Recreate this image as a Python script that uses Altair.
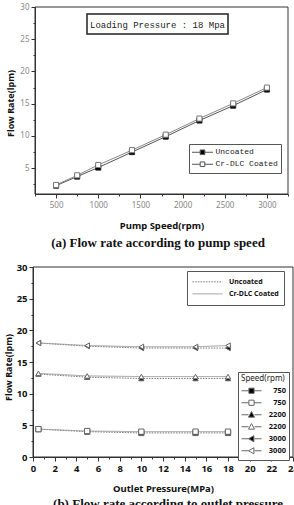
import altair as alt
import pandas as pd

# ---------------- data: panel (a) ----------------
pump_speed = [500, 750, 1000, 1400, 1800, 2200, 2600, 3000]
flow_uncoated_a = [2.3, 3.7, 5.1, 7.5, 9.9, 12.4, 14.7, 17.2]
flow_coated_a = [2.4, 3.9, 5.5, 7.8, 10.2, 12.7, 15.05, 17.5]
coatings = ["Uncoated", "Cr-DLC Coated"]

# ---------------- data: panel (b) ----------------
outlet_pressure = [0.5, 5, 10, 15, 18]
flow_750_uncoated = [4.4, 4.0, 3.8, 3.8, 3.8]
flow_750_coated = [4.4, 4.1, 4.0, 4.0, 4.0]
flow_2200_uncoated = [13.1, 12.6, 12.4, 12.4, 12.4]
flow_2200_coated = [13.2, 12.8, 12.7, 12.7, 12.7]
flow_3000_uncoated = [18.0, 17.5, 17.2, 17.2, 17.2]
flow_3000_coated = [18.0, 17.6, 17.4, 17.4, 17.6]
speeds = ["750", "2200", "3000"]

annotation_text = "Loading Pressure : 18 Mpa"
caption_a = "(a)  Flow rate according to pump speed"
caption_b = "(b)  Flow rate according to outlet pressure"

# ---------------- tables ----------------
rows_a = []
for coat, vals in zip(coatings, [flow_uncoated_a, flow_coated_a]):
    for s, v in zip(pump_speed, vals):
        rows_a.append({"speed": s, "flow": v, "coat": coat})
df_a = pd.DataFrame(rows_a)

series_b = {
    ("750", "Uncoated"): flow_750_uncoated,
    ("750", "Cr-DLC Coated"): flow_750_coated,
    ("2200", "Uncoated"): flow_2200_uncoated,
    ("2200", "Cr-DLC Coated"): flow_2200_coated,
    ("3000", "Uncoated"): flow_3000_uncoated,
    ("3000", "Cr-DLC Coated"): flow_3000_coated,
}
keys_b = []
rows_b = []
for (sp, coat), vals in series_b.items():
    key = f"{sp} {'U' if coat == 'Uncoated' else 'C'}"
    keys_b.append(key)
    for p, v in zip(outlet_pressure, vals):
        rows_b.append({"pressure": p, "flow": v, "coat": coat, "key": key})
df_b = pd.DataFrame(rows_b)

W, H = 294, 505
# plot frames (pixel geometry)
A_L, A_R, A_T, A_B = 35, 288, 7, 194
B_L, B_R, B_T, B_B = 33, 293, 267, 457

SANS = "Noto Sans"

# ---------------- panel (a) ----------------
xa = alt.X(
    "speed:Q",
    scale=alt.Scale(domain=[250, 3250], range=[A_L, A_R], nice=False, zero=False),
    axis=alt.Axis(
        orient="bottom", offset=-(H - A_B), values=list(range(250, 3251, 250)), format="d",
        labelExpr="(datum.value % 500 === 0) ? datum.label : ''",
        tickSize={"condition": {"test": "datum.value % 500 === 0", "value": 4}, "value": 2},
        grid=False, domainColor="#333", tickColor="#333", labelColor="#888",
        labelFont=SANS, labelFontSize=8, labelPadding=3, labelFlush=False, labelOverlap=False,
        title="Pump Speed(rpm)", titleFont=SANS, titleFontSize=9.5, titleFontWeight="bold",
        titleColor="#111", titleX=(A_L + A_R) / 2, titleY=31, titleBaseline="middle",
    ),
)
ya = alt.Y(
    "flow:Q",
    scale=alt.Scale(domain=[1, 30], range=[A_B, A_T], nice=False, zero=False),
    axis=alt.Axis(
        orient="left", offset=-A_L, values=[2.5 * i for i in range(1, 13)],
        labelExpr="(datum.value % 5 === 0) ? datum.label : ''",
        tickSize={"condition": {"test": "datum.value % 5 === 0", "value": 4}, "value": 2},
        grid=False, domainColor="#333", tickColor="#333", labelColor="#888",
        labelFont=SANS, labelFontSize=8, labelPadding=2, labelFlush=False, labelOverlap=False,
        title="Flow Rate(lpm)", titleFont=SANS, titleFontSize=9, titleFontWeight="bold",
        titleColor="#111", titleX=10 - A_L, titleY=103, titleAngle=-90,
        titleBaseline="middle", titleAlign="center",
    ),
)

lines_a = alt.Chart(df_a).mark_line(strokeWidth=1).encode(
    x=xa, y=ya,
    color=alt.Color("coat:N", scale=alt.Scale(domain=coatings, range=["#555", "#888"]), legend=None),
)
points_a = alt.Chart(df_a).mark_point(shape="square", size=26, strokeWidth=1, opacity=1, filled=True).encode(
    x=xa, y=ya,
    fill=alt.Fill("coat:N", scale=alt.Scale(domain=coatings, range=["#000", "#fff"]), legend=None),
    stroke=alt.Stroke("coat:N", scale=alt.Scale(domain=coatings, range=["#222", "#777"]), legend=None),
)
SYM_SQ = "M-1,0H-0.22M0.22,0H1M-0.22,-0.22H0.22V0.22H-0.22Z"
legend_a = alt.Legend(
    title=None, orient="none", legendX=189, legendY=144,
    symbolSize=441, symbolStrokeWidth=1,
    labelFont="Liberation Mono", labelFontSize=8, labelColor="#222", labelOffset=2,
    clipHeight=11.5, rowPadding=0, padding=2.5,
    strokeColor="#555", fillColor="white",
)
legend_pts_a = alt.Chart(df_a).transform_filter("datum.flow < 0").mark_point(
    size=441, strokeWidth=1, opacity=1, filled=True, stroke="#555"
).encode(
    shape=alt.Shape("coat:N", scale=alt.Scale(domain=coatings, range=[SYM_SQ, SYM_SQ]), legend=legend_a),
    fill=alt.Fill("coat:N", scale=alt.Scale(domain=coatings, range=["#000", "#fff"]), legend=legend_a),
)
panel_a = alt.layer(lines_a, points_a, legend_pts_a).resolve_scale(shape="independent", fill="independent")

# ---------------- panel (b) ----------------
xb = alt.X(
    "pressure:Q",
    scale=alt.Scale(domain=[0, 24], range=[B_L, B_R], nice=False, zero=False),
    axis=alt.Axis(
        orient="bottom", offset=-(H - B_B), values=list(range(0, 25)), format="d",
        labelExpr="(datum.value % 2 === 0) ? datum.label : ''",
        tickSize={"condition": {"test": "datum.value % 2 === 0", "value": 4}, "value": 2},
        grid=False, domainColor="#333", tickColor="#333", labelColor="#111",
        labelFont=SANS, labelFontSize=9.5, labelFontWeight="bold", labelPadding=2,
        labelFlush=False, labelOverlap=False,
        title="Outlet Pressure(MPa)", titleFont=SANS, titleFontSize=9.5, titleFontWeight="bold",
        titleColor="#111", titleX=(B_L + B_R) / 2, titleY=31, titleBaseline="middle",
    ),
)
yb = alt.Y(
    "flow:Q",
    scale=alt.Scale(domain=[0, 30], range=[B_B, B_T], nice=False, zero=False),
    axis=alt.Axis(
        orient="left", offset=-B_L, values=[2.5 * i for i in range(0, 13)],
        labelExpr="(datum.value % 5 === 0) ? datum.label : ''",
        tickSize={"condition": {"test": "datum.value % 5 === 0", "value": 4}, "value": 2},
        grid=False, domainColor="#333", tickColor="#333", labelColor="#111",
        labelFont=SANS, labelFontSize=9.5, labelFontWeight="bold", labelPadding=2,
        labelFlush=False, labelOverlap=False,
        title="Flow Rate(lpm)", titleFont=SANS, titleFontSize=9, titleFontWeight="bold",
        titleColor="#111", titleX=8 - B_L, titleY=367, titleAngle=-90,
        titleBaseline="middle", titleAlign="center",
    ),
)

legend_lines_b = alt.Legend(
    title=None, orient="none", legendX=187, legendY=271,
    symbolSize=900, symbolStrokeWidth=1, labelFont=SANS, labelFontSize=7,
    labelFontWeight="bold", labelColor="#111", labelOffset=6,
    clipHeight=11.7, rowPadding=0, padding=5, strokeColor="#555", fillColor="white",
)
lines_b = alt.Chart(df_b).mark_line(strokeWidth=1).encode(
    x=xb, y=yb, detail="key:N",
    stroke=alt.Stroke("coat:N", scale=alt.Scale(domain=coatings, range=["#777", "#999"]), legend=legend_lines_b),
    strokeDash=alt.StrokeDash("coat:N", scale=alt.Scale(domain=coatings, range=[[1.5, 1.2], [1, 0]]), legend=legend_lines_b),
)
shapes_plain = ["square", "square", "triangle-up", "triangle-up", "triangle-left", "triangle-left"]
fills_b = ["#000", "#fff", "#000", "#fff", "#000", "#fff"]
points_b = alt.Chart(df_b).mark_point(size=28, strokeWidth=1, opacity=1, filled=True, stroke="#666").encode(
    x=xb, y=yb,
    shape=alt.Shape("key:N", scale=alt.Scale(domain=keys_b, range=shapes_plain), legend=None),
    fill=alt.Fill("key:N", scale=alt.Scale(domain=keys_b, range=fills_b), legend=None),
)

SQ = "M-1,0H-0.26M0.26,0H1M-0.26,-0.26H0.26V0.26H-0.26Z"
TU = "M-1,0H-0.3M0.3,0H1M0,-0.32L0.3,0.24H-0.3Z"
TL = "M-1,0H-0.3M0.3,0H1M-0.3,0L0.24,-0.3V0.3Z"
shapes_legend = [SQ, SQ, TU, TU, TL, TL]
legend_speed = alt.Legend(
    title="Speed(rpm)", orient="none", legendX=238, legendY=372,
    titleFont=SANS, titleFontSize=8, titleFontWeight="normal", titleColor="#222", titlePadding=2,
    symbolSize=400, symbolStrokeWidth=1, labelFont=SANS, labelFontSize=7.5,
    labelFontWeight="bold", labelColor="#111", labelAlign="right", labelOffset=24,
    labelExpr="split(datum.label, ' ')[0]",
    clipHeight=11.5, rowPadding=0, padding=3, strokeColor="#555", fillColor="white",
)
legend_pts_b = alt.Chart(df_b).transform_filter("datum.flow < 0").mark_point(
    size=400, strokeWidth=1, opacity=1, filled=True, stroke="#666"
).encode(
    shape=alt.Shape("key:N", scale=alt.Scale(domain=keys_b, range=shapes_legend), legend=legend_speed),
    fill=alt.Fill("key:N", scale=alt.Scale(domain=keys_b, range=fills_b), legend=legend_speed),
)
panel_b = alt.layer(lines_b, points_b, legend_pts_b).resolve_scale(shape="independent", fill="independent")

# ---------------- decorations ----------------
one = pd.DataFrame({"t": [annotation_text]})
frame_a = alt.Chart(one).mark_rect(fill="transparent", stroke="#333", strokeWidth=1).encode(
    x=alt.value(A_L), x2=alt.value(A_R), y=alt.value(A_T), y2=alt.value(A_B))
frame_b = alt.Chart(one).mark_rect(fill="transparent", stroke="#333", strokeWidth=1).encode(
    x=alt.value(B_L), x2=alt.value(B_R), y=alt.value(B_T), y2=alt.value(B_B))
annot_box = alt.Chart(one).mark_rect(fill="white", stroke="#222", strokeWidth=1.5).encode(
    x=alt.value(87), x2=alt.value(228), y=alt.value(14), y2=alt.value(34))
annot_txt = alt.Chart(one).mark_text(font="Liberation Mono", fontSize=9, color="#222").encode(
    text="t:N", x=alt.value(157.5), y=alt.value(24.5))
cap_a = alt.Chart(pd.DataFrame({"t": [caption_a]})).mark_text(
    font="Liberation Serif", fontSize=13, fontWeight="bold", color="#111").encode(
    text="t:N", x=alt.value(158), y=alt.value(243))
cap_b = alt.Chart(pd.DataFrame({"t": [caption_b]})).mark_text(
    font="Liberation Serif", fontSize=13, fontWeight="bold", color="#111", baseline="alphabetic").encode(
    text="t:N", x=alt.value(168), y=alt.value(508))

chart = alt.layer(
    frame_a, frame_b, panel_a, panel_b, annot_box, annot_txt, cap_a, cap_b
).resolve_scale(
    x="independent", y="independent", color="independent", fill="independent",
    stroke="independent", strokeDash="independent", shape="independent",
).properties(
    width=W, height=H, autosize=alt.AutoSizeParams(type="none"), padding=0,
    background="white",
).configure_view(strokeWidth=0)

chart.save("out.html", embed_options={"renderer": "svg", "actions": False})
